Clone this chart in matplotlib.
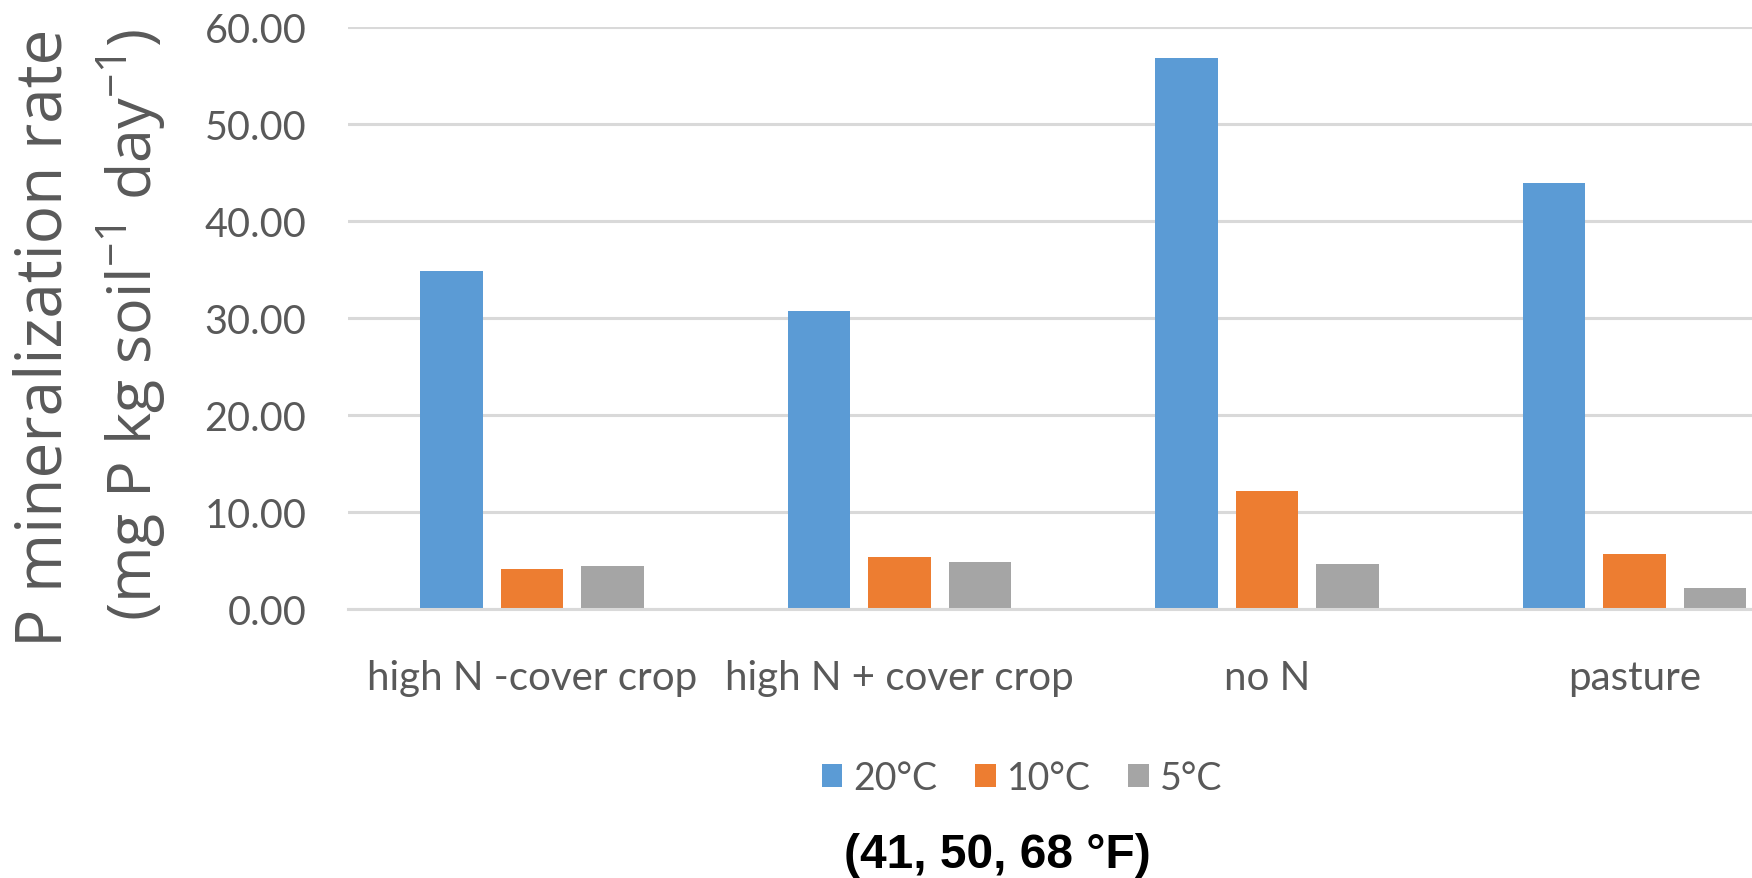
import matplotlib
matplotlib.use("Agg")
import matplotlib.pyplot as plt
import numpy as np

categories = ["high N -cover crop", "high N + cover crop", "no N", "pasture"]
series_names = ["20°C", "10°C", "5°C"]
vals_20 = [34.8, 30.7, 56.8, 43.9]
vals_10 = [4.1, 5.4, 12.2, 5.7]
vals_5 = [4.4, 4.8, 4.6, 2.2]
yticks = [0, 10, 20, 30, 40, 50, 60]
colors = ["#5B9BD5", "#ED7D31", "#A5A5A5"]
footnote = "(41, 50, 68 °F)"

plt.rcParams['mathtext.fontset'] = 'custom'
plt.rcParams['mathtext.rm'] = 'Open Sans'

W, H = 1752, 879
fig = plt.figure(figsize=(W / 100, H / 100), dpi=100)
left = 348 / W
width = 4 * 367.6 / W
bottom = (H - 610) / H
top = (H - 28) / H
ax = fig.add_axes([left, bottom, width, top - bottom])

x = np.arange(len(categories))
bw = 0.17
pitch = 0.219
for i, (vals, c, name) in enumerate(zip([vals_20, vals_10, vals_5], colors, series_names)):
    ax.bar(x + (i - 1) * pitch, vals, bw, color=c, label=name, zorder=3)

ax.set_xlim(-0.5, len(categories) - 0.5)
ax.set_ylim(0, 60)
ax.set_yticks(yticks)
ax.set_yticklabels([f"{t:.2f}" for t in yticks], fontfamily="Lato", fontsize=28.5, color="#595959")
ax.set_xticks(x)
ax.set_xticklabels(categories, fontfamily="Lato", fontsize=29, color="#595959")
ax.tick_params(axis="both", length=0)
ax.tick_params(axis="y", pad=30)
ax.tick_params(axis="x", pad=36)
ax.grid(axis="y", color="#D9D9D9", linewidth=2.2, zorder=0)
for s in ["top", "right", "left"]:
    ax.spines[s].set_visible(False)
ax.spines["bottom"].set_color("#D9D9D9")
ax.spines["bottom"].set_linewidth(2.2)
ax.spines["bottom"].set_zorder(4)

fig.text(45 / W, 1 - 338 / H, "P mineralization rate", rotation=90, ha="center", va="center",
         fontfamily="Open Sans", fontsize=46, color="#595959")
fig.text(132 / W, 1 - 325 / H, r"(mg P kg soil$^{\mathregular{-1}}$ day$^{\mathregular{-1}}$)", rotation=90,
         ha="center", va="center", fontfamily="Open Sans", fontsize=44, color="#595959")

leg = fig.legend(loc="center", bbox_to_anchor=(1022 / W, 1 - 779 / H), ncol=3, frameon=False,
                 prop={"family": "Lato", "size": 27}, handlelength=0.55, handleheight=0.55,
                 handletextpad=0.3, columnspacing=1.0)
for t in leg.get_texts():
    t.set_color("#595959")

fig.text(997 / W, 1 - 856 / H, footnote, ha="center", va="center", fontfamily="Liberation Sans",
         fontweight="bold", fontsize=34.5, color="black")

fig.savefig("out.png", dpi=100)
